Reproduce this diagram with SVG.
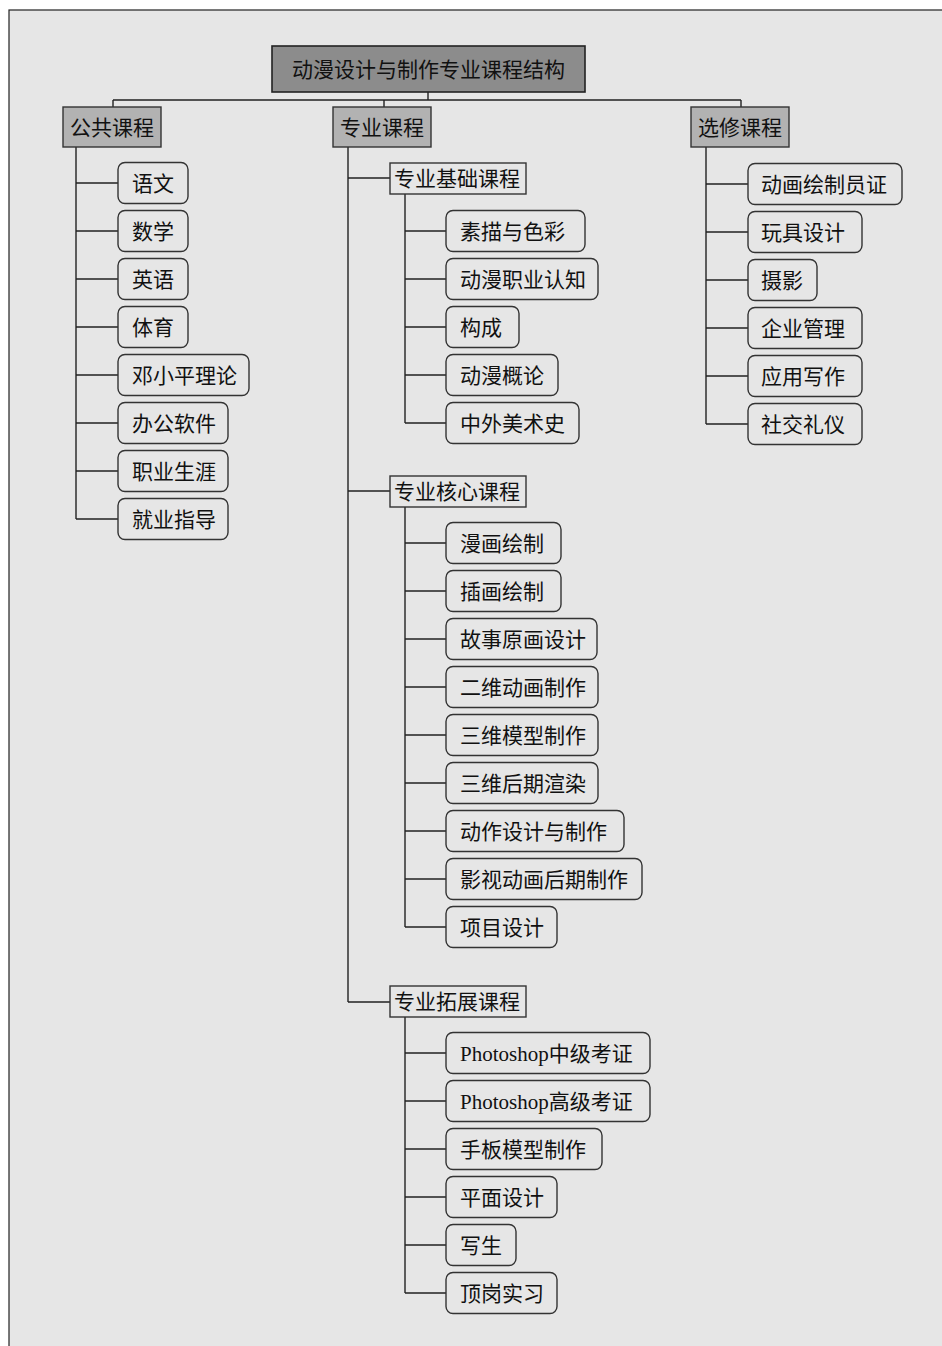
<svg xmlns="http://www.w3.org/2000/svg" width="942" height="1346" viewBox="0 0 942 1346">
<style>
.t{font-family:"Liberation Serif","Noto Sans CJK SC",serif;font-size:21px;fill:#111}
.leaf{fill:#e6e6e6;stroke:#333;stroke-width:1.4}
.sec{fill:#e6e6e6;stroke:#333;stroke-width:1.4}
.l1{fill:#b2b2b2;stroke:#333;stroke-width:1.4}
.root{fill:#8c8c8c;stroke:#222;stroke-width:1.6}
.c{fill:none;stroke:#222;stroke-width:1.4}
</style>
<rect x="0" y="0" width="942" height="1346" fill="#ffffff"/>
<rect x="9" y="10" width="960" height="1360" fill="#e6e6e6" stroke="#222" stroke-width="1.2"/>
<g id="connectors" class="c">
<path d="M428,92V100M113,100H741M113,100V107M384,100V107M741,100V107"/>
<path d="M76,147V519M76,183H118M76,231H118M76,279H118M76,327H118M76,375H118M76,423H118M76,471H118M76,519H118"/>
<path d="M348,147V1002M348,178H390M348,491H390M348,1002H390"/>
<path d="M405,194V423M405,231H446M405,279H446M405,327H446M405,375H446M405,423H446"/>
<path d="M405,507V927M405,543H446M405,591H446M405,639H446M405,687H446M405,735H446M405,783H446M405,831H446M405,879H446M405,927H446"/>
<path d="M405,1017V1293M405,1053H446M405,1101H446M405,1149H446M405,1197H446M405,1245H446M405,1293H446"/>
<path d="M706,147V424M706,184H748M706,232H748M706,280H748M706,328H748M706,376H748M706,424H748"/>
</g>
<g id="root"><rect class="root" x="272" y="46" width="313" height="46"/><text class="t" x="428.5" y="77" text-anchor="middle">动漫设计与制作专业课程结构</text></g>
<g id="gonggong"><rect class="l1" x="63" y="107" width="98" height="40"/><text class="t" x="112" y="135" text-anchor="middle">公共课程</text></g>
<g id="zhuanye"><rect class="l1" x="333" y="107" width="98" height="40"/><text class="t" x="382" y="135" text-anchor="middle">专业课程</text></g>
<g id="xuanxiu"><rect class="l1" x="691" y="107" width="98" height="40"/><text class="t" x="740" y="135" text-anchor="middle">选修课程</text></g>

<g id="n-yuwen"><rect class="leaf" x="118" y="162.5" width="70" height="41" rx="7"/><text class="t" x="132" y="191">语文</text></g>
<g id="n-shuxue"><rect class="leaf" x="118" y="210.5" width="70" height="41" rx="7"/><text class="t" x="132" y="239">数学</text></g>
<g id="n-yingyu"><rect class="leaf" x="118" y="258.5" width="70" height="41" rx="7"/><text class="t" x="132" y="287">英语</text></g>
<g id="n-tiyu"><rect class="leaf" x="118" y="306.5" width="70" height="41" rx="7"/><text class="t" x="132" y="335">体育</text></g>
<g id="n-deng"><rect class="leaf" x="118" y="354.5" width="131" height="41" rx="7"/><text class="t" x="132" y="383">邓小平理论</text></g>
<g id="n-bangong"><rect class="leaf" x="118" y="402.5" width="110" height="41" rx="7"/><text class="t" x="132" y="431">办公软件</text></g>
<g id="n-zhiye"><rect class="leaf" x="118" y="450.5" width="110" height="41" rx="7"/><text class="t" x="132" y="479">职业生涯</text></g>
<g id="n-jiuye"><rect class="leaf" x="118" y="498.5" width="110" height="41" rx="7"/><text class="t" x="132" y="527">就业指导</text></g>

<g id="s-jichu"><rect class="sec" x="390" y="163" width="136" height="31"/><text class="t" x="394" y="186">专业基础课程</text></g>
<g id="n-sumiao"><rect class="leaf" x="446" y="210.5" width="139" height="41" rx="7"/><text class="t" x="460" y="239">素描与色彩</text></g>
<g id="n-renzhi"><rect class="leaf" x="446" y="258.5" width="152" height="41" rx="7"/><text class="t" x="460" y="287">动漫职业认知</text></g>
<g id="n-goucheng"><rect class="leaf" x="446" y="306.5" width="73" height="41" rx="7"/><text class="t" x="460" y="335">构成</text></g>
<g id="n-gailun"><rect class="leaf" x="446" y="354.5" width="112" height="41" rx="7"/><text class="t" x="460" y="383">动漫概论</text></g>
<g id="n-meishu"><rect class="leaf" x="446" y="402.5" width="133" height="41" rx="7"/><text class="t" x="460" y="431">中外美术史</text></g>

<g id="s-hexin"><rect class="sec" x="390" y="476" width="136" height="31"/><text class="t" x="394" y="499">专业核心课程</text></g>
<g id="n-manhua"><rect class="leaf" x="446" y="522.5" width="115" height="41" rx="7"/><text class="t" x="460" y="551">漫画绘制</text></g>
<g id="n-chahua"><rect class="leaf" x="446" y="570.5" width="115" height="41" rx="7"/><text class="t" x="460" y="599">插画绘制</text></g>
<g id="n-gushi"><rect class="leaf" x="446" y="618.5" width="151" height="41" rx="7"/><text class="t" x="460" y="647">故事原画设计</text></g>
<g id="n-erwei"><rect class="leaf" x="446" y="666.5" width="152" height="41" rx="7"/><text class="t" x="460" y="695">二维动画制作</text></g>
<g id="n-sanwei"><rect class="leaf" x="446" y="714.5" width="152" height="41" rx="7"/><text class="t" x="460" y="743">三维模型制作</text></g>
<g id="n-houqi"><rect class="leaf" x="446" y="762.5" width="152" height="41" rx="7"/><text class="t" x="460" y="791">三维后期渲染</text></g>
<g id="n-dongzuo"><rect class="leaf" x="446" y="810.5" width="178" height="41" rx="7"/><text class="t" x="460" y="839">动作设计与制作</text></g>
<g id="n-yingshi"><rect class="leaf" x="446" y="858.5" width="196" height="41" rx="7"/><text class="t" x="460" y="887">影视动画后期制作</text></g>
<g id="n-xiangmu"><rect class="leaf" x="446" y="906.5" width="111" height="41" rx="7"/><text class="t" x="460" y="935">项目设计</text></g>

<g id="s-tuozhan"><rect class="sec" x="390" y="986" width="136" height="31"/><text class="t" x="394" y="1009">专业拓展课程</text></g>
<g id="n-ps1"><rect class="leaf" x="446" y="1032.5" width="204" height="41" rx="7"/><text class="t" x="460" y="1061">Photoshop中级考证</text></g>
<g id="n-ps2"><rect class="leaf" x="446" y="1080.5" width="204" height="41" rx="7"/><text class="t" x="460" y="1109">Photoshop高级考证</text></g>
<g id="n-shouban"><rect class="leaf" x="446" y="1128.5" width="156" height="41" rx="7"/><text class="t" x="460" y="1157">手板模型制作</text></g>
<g id="n-pingmian"><rect class="leaf" x="446" y="1176.5" width="111" height="41" rx="7"/><text class="t" x="460" y="1205">平面设计</text></g>
<g id="n-xiesheng"><rect class="leaf" x="446" y="1224.5" width="70" height="41" rx="7"/><text class="t" x="460" y="1253">写生</text></g>
<g id="n-dinggang"><rect class="leaf" x="446" y="1272.5" width="111" height="41" rx="7"/><text class="t" x="460" y="1301">顶岗实习</text></g>

<g id="n-donghua"><rect class="leaf" x="748" y="163.5" width="154" height="41" rx="7"/><text class="t" x="761" y="192">动画绘制员证</text></g>
<g id="n-wanju"><rect class="leaf" x="748" y="211.5" width="114" height="41" rx="7"/><text class="t" x="761" y="240">玩具设计</text></g>
<g id="n-sheying"><rect class="leaf" x="748" y="259.5" width="69" height="41" rx="7"/><text class="t" x="761" y="288">摄影</text></g>
<g id="n-qiye"><rect class="leaf" x="748" y="307.5" width="114" height="41" rx="7"/><text class="t" x="761" y="336">企业管理</text></g>
<g id="n-yingyong"><rect class="leaf" x="748" y="355.5" width="114" height="41" rx="7"/><text class="t" x="761" y="384">应用写作</text></g>
<g id="n-shejiao"><rect class="leaf" x="748" y="403.5" width="114" height="41" rx="7"/><text class="t" x="761" y="432">社交礼仪</text></g>
</svg>
